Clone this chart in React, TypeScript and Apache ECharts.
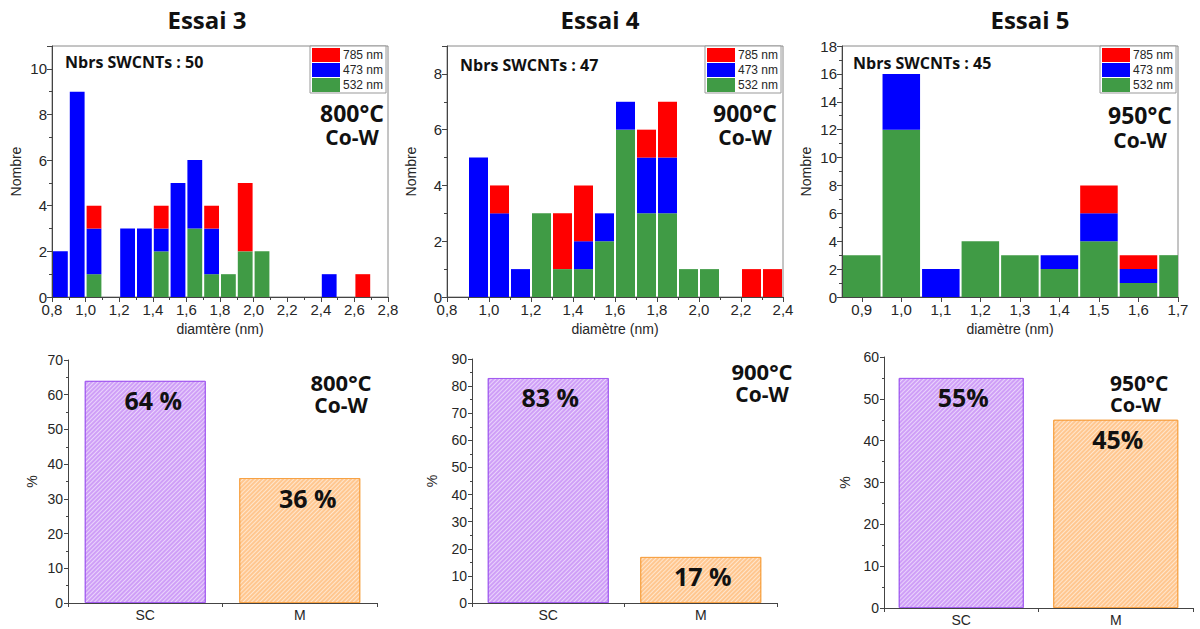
import React, { useEffect, useRef } from 'react';
import * as echarts from 'echarts';

// ---------- DATA ----------
const wavelengthNames = ['785 nm', '473 nm', '532 nm'];
const wavelengthColors: Record<string, string> = { '785 nm': '#ff0000', '473 nm': '#0000ff', '532 nm': '#409b45' };

// Essai 3 (800°C): bin starts (nm), bin width 0.1
const bins3 = [0.8, 0.9, 1.0, 1.2, 1.3, 1.4, 1.5, 1.6, 1.7, 1.8, 1.9, 2.0, 2.4, 2.6];
const green3 = [0, 0, 1, 0, 0, 2, 0, 3, 1, 1, 2, 2, 0, 0];
const blue3 = [2, 9, 2, 3, 3, 1, 5, 3, 2, 0, 0, 0, 1, 0];
const red3 = [0, 0, 1, 0, 0, 1, 0, 0, 1, 0, 3, 0, 0, 1];

// Essai 4 (900°C): bin starts (nm)
const bins4 = [0.9, 1.0, 1.1, 1.2, 1.3, 1.4, 1.5, 1.6, 1.7, 1.8, 1.9, 2.0, 2.2, 2.3];
const green4 = [0, 0, 0, 3, 1, 1, 2, 6, 3, 3, 1, 1, 0, 0];
const blue4 = [5, 3, 1, 0, 0, 1, 1, 1, 2, 2, 0, 0, 0, 0];
const red4 = [0, 1, 0, 0, 2, 2, 0, 0, 1, 2, 0, 0, 1, 1];

// Essai 5 (950°C): bin centres (nm)
const centers5 = [0.9, 1.0, 1.1, 1.2, 1.3, 1.4, 1.5, 1.6, 1.7];
const green5 = [3, 12, 0, 4, 3, 2, 4, 1, 3];
const blue5 = [0, 4, 2, 0, 0, 1, 2, 1, 0];
const red5 = [0, 0, 0, 0, 0, 0, 2, 1, 0];
const xTicks5 = [0.9, 1.0, 1.1, 1.2, 1.3, 1.4, 1.5, 1.6, 1.7];

const essaiTitles = ['Essai 3', 'Essai 4', 'Essai 5'];
const tubeCounts = [50, 47, 45];
const temperatures = ['800°C', '900°C', '950°C'];
const catalyst = 'Co-W';
const xAxisNames = ['diamtère (nm)', 'diamètre (nm)', 'diamètre (nm)'];

const typeCategories = ['SC', 'M'];
const scPercent = [64, 83, 55];
const mPercent = [36, 17, 45];
const pctSuffix = [' %', ' %', '%'];

// ---------- HELPERS ----------
const BIN_W = 0.1;
function stackSegments(starts: number[], layers: number[][]) {
  const base = starts.map(() => 0);
  return layers.map((layer) => {
    const out: number[][] = [];
    layer.forEach((v, i) => {
      if (v > 0) out.push([starts[i], +(starts[i] + BIN_W).toFixed(3), base[i], base[i] + v]);
      base[i] += v;
    });
    return out;
  });
}

const commaFmt = (v: number) => v.toFixed(1).replace('.', ',');

const renderBin = (color: string) => (params: any, api: any) => {
  const p0 = api.coord([api.value(0), api.value(2)]);
  const p1 = api.coord([api.value(1), api.value(3)]);
  const rect = { x: p0[0] + 1, y: p1[1], width: p1[0] - p0[0] - 2, height: p0[1] - p1[1] };
  const cs = params.coordSys;
  const clipped = echarts.graphic.clipRectByRect(rect, { x: cs.x, y: cs.y, width: cs.width, height: cs.height });
  if (!clipped) return null;
  return { type: 'rect', shape: clipped, style: { fill: color } };
};

const App: React.FC = () => {
  const ref = useRef<HTMLDivElement>(null);

  useEffect(() => {
    if (!ref.current) return;
    const chart = echarts.init(ref.current, undefined, { renderer: 'svg' });

    const histGrids = [
      { left: 52, top: 46, width: 336, height: 251 },
      { left: 447, top: 46, width: 336, height: 251 },
      { left: 842, top: 46, width: 336, height: 251 },
    ];
    const barGrids = [
      { left: 68, top: 360, width: 309, height: 243 },
      { left: 472, top: 359, width: 305, height: 244 },
      { left: 884, top: 357, width: 309, height: 251 },
    ];

    const axisText = { color: '#262626', fontFamily: 'Liberation Sans, Arial, sans-serif' };
    const axisLine = { show: true, lineStyle: { color: '#444', width: 1 } };

    const histX = [
      { min: 0.8, max: 2.8, interval: 0.2 },
      { min: 0.8, max: 2.4, interval: 0.2 },
      { min: 0.85, max: 1.7, custom: xTicks5 },
    ];
    const histY = [
      { max: 11 },
      { max: 9 },
      { max: 18 },
    ];

    const segs = [
      stackSegments(bins3, [green3, blue3, red3]),
      stackSegments(bins4, [green4, blue4, red4]),
      stackSegments(centers5.map((c) => +(c - 0.05).toFixed(3)), [green5, blue5, red5]),
    ];
    const layerNames = ['532 nm', '473 nm', '785 nm'];

    const grids: any[] = [];
    const xAxes: any[] = [];
    const yAxes: any[] = [];
    const series: any[] = [];
    const legends: any[] = [];
    const graphics: any[] = [];

    histGrids.forEach((g, i) => {
      grids.push({ ...g, show: true, borderColor: '#8a8a8a', borderWidth: 1, outerBoundsMode: 'none' });
      const hx = histX[i] as any;
      const xa: any = {
        type: 'value', gridIndex: i, min: hx.min, max: hx.max,
        axisLine, splitLine: { show: false },
        axisTick: { show: true, length: 5, lineStyle: { color: '#444' } },
        minorTick: { show: !hx.custom, splitNumber: 2, length: 3, lineStyle: { color: '#444' } },
        axisLabel: { ...axisText, fontSize: 15, margin: 5, formatter: commaFmt, showMaxLabel: true, showMinLabel: true },
        name: xAxisNames[i], nameLocation: 'middle', nameGap: 25, nameMoveOverlap: false,
        nameTextStyle: { ...axisText, fontSize: 14 },
      };
      if (hx.custom) {
        xa.axisLabel.customValues = hx.custom;
        xa.axisTick.customValues = hx.custom;
      } else {
        xa.interval = hx.interval;
      }
      xAxes.push(xa);
      yAxes.push({
        type: 'value', gridIndex: i, min: 0, max: histY[i].max, interval: 2,
        axisLine, splitLine: { show: false },
        axisTick: { show: true, length: 5, lineStyle: { color: '#444' } },
        minorTick: { show: true, splitNumber: 2, length: 3, lineStyle: { color: '#444' } },
        axisLabel: { ...axisText, fontSize: 15, margin: 5, showMaxLabel: histY[i].max % 2 === 0 },
        name: 'Nombre', nameLocation: 'middle', nameGap: 29, nameMoveOverlap: false,
        nameTextStyle: { ...axisText, fontSize: 14 },
      });
      segs[i].forEach((data, k) => {
        const name = layerNames[k];
        series.push({
          type: 'custom', name, xAxisIndex: i, yAxisIndex: i,
          itemStyle: { color: wavelengthColors[name] },
          encode: { x: [0, 1], y: [2, 3] },
          renderItem: renderBin(wavelengthColors[name]),
          data,
        });
      });
      legends.push({
        data: wavelengthNames, left: g.left + g.width - 78, top: 46, orient: 'vertical',
        icon: 'rect', itemWidth: 28, itemHeight: 14, itemGap: 1, itemStyle: { borderWidth: 0 },
        padding: [2, 3, 1, 2], borderColor: '#999', borderWidth: 1, backgroundColor: '#fff',
        selectedMode: false,
        textStyle: { ...axisText, fontSize: 12, padding: [0, 0, 0, -2] },
      });
    });

    barGrids.forEach((g, j) => {
      const gi = j + 3;
      grids.push({ ...g, show: false, outerBoundsMode: 'none' });
      xAxes.push({
        type: 'category', gridIndex: gi, data: typeCategories,
        axisLine, axisTick: { show: true, length: 4, lineStyle: { color: '#444' } },
        axisLabel: { ...axisText, fontSize: 14, margin: 5 },
      });
      yAxes.push({
        type: 'value', gridIndex: gi, min: 0, max: [70, 90, 60][j], interval: 10,
        axisLine, splitLine: { show: false },
        axisTick: { show: true, length: 4, lineStyle: { color: '#444' } },
        minorTick: { show: true, splitNumber: 2, length: 2, lineStyle: { color: '#444' } },
        axisLabel: { ...axisText, fontSize: 14, margin: 5 },
        name: '%', nameLocation: 'middle', nameGap: [29, 33, 32][j], nameMoveOverlap: false,
        nameTextStyle: { ...axisText, fontSize: 14 },
      });
      const decal = {
        symbol: 'rect', symbolSize: 1, color: 'rgba(255,255,255,0.55)',
        dashArrayX: [1, 0], dashArrayY: [1, 2], rotation: -Math.PI / 4,
      };
      series.push({
        type: 'bar', xAxisIndex: gi, yAxisIndex: gi,
        barWidth: [121, 121, 125][j],
        data: [
          { value: scPercent[j], itemStyle: { color: '#cf9ff7', borderColor: '#a35cf0', borderWidth: 1, decal } },
          { value: mPercent[j], itemStyle: { color: '#ffc790', borderColor: '#f7a245', borderWidth: 1, decal } },
        ],
        label: {
          show: true, position: 'insideTop', distance: 7, offset: [j === 0 ? 8 : 2, 0],
          formatter: (p: any) => `${p.value}${pctSuffix[j]}`,
          fontFamily: 'Open Sans, sans-serif', fontWeight: 'bold', fontSize: 25, color: '#111',
        },
      });
    });

    const boldFont = 'Open Sans, sans-serif';
    const addText = (text: string, x: number, y: number, size: number, align = 'center') => {
      graphics.push({
        type: 'text', x, y, silent: true,
        style: {
          text, fontFamily: boldFont, fontWeight: 'bold', fontSize: size, lineHeight: size,
          fill: '#111', align, verticalAlign: 'middle',
        },
      });
    };
    // two-line "temperature / catalyst" block as a single rich text
    const addTempBlock = (temp: string, x: number, yTop: number, s1: number, s2: number, gap: number, align = 'center') => {
      graphics.push({
        type: 'text', x, y: yTop, silent: true,
        style: {
          text: `{a|${temp}}\n{b|${catalyst}}`,
          align, verticalAlign: 'top', fill: '#111',
          rich: {
            a: { fontFamily: boldFont, fontWeight: 'bold', fontSize: s1, lineHeight: s1 + gap, fill: '#111', align },
            b: { fontFamily: boldFont, fontWeight: 'bold', fontSize: s2, lineHeight: s2 + 2, fill: '#111', align },
          },
        },
      });
    };
    const titleX = [207, 600, 1030];
    const countX = [65, 460, 853];
    const countY = [62, 65, 63];
    const tempX = [352, 745, 1140];
    essaiTitles.forEach((t, i) => {
      addText(t, titleX[i], 19, 24);
      addText(`Nbrs SWCNTs : ${tubeCounts[i]}`, countX[i], countY[i], 16, 'left');
      addTempBlock(temperatures[i], tempX[i], 101, 23, 21, i === 2 ? 4 : 1);
    });
    const bTempX = [341, 762, 1110];
    const bTopY = [370, 359, 372];
    const bAlign = ['center', 'center', 'left'];
    temperatures.forEach((t, j) => {
      addTempBlock(t, bTempX[j], bTopY[j], j === 2 ? 21 : 22, j === 2 ? 20 : 21, j === 2 ? 0 : 1, bAlign[j]);
    });

    chart.setOption({
      animation: false,
      backgroundColor: '#fff',
      grid: grids,
      xAxis: xAxes,
      yAxis: yAxes,
      legend: legends,
      series,
      graphic: { elements: graphics },
    });

    return () => chart.dispose();
  }, []);

  return <div ref={ref} style={{ position: 'fixed', left: 0, top: 0, width: 1200, height: 629 }} />;
};

export default App;
